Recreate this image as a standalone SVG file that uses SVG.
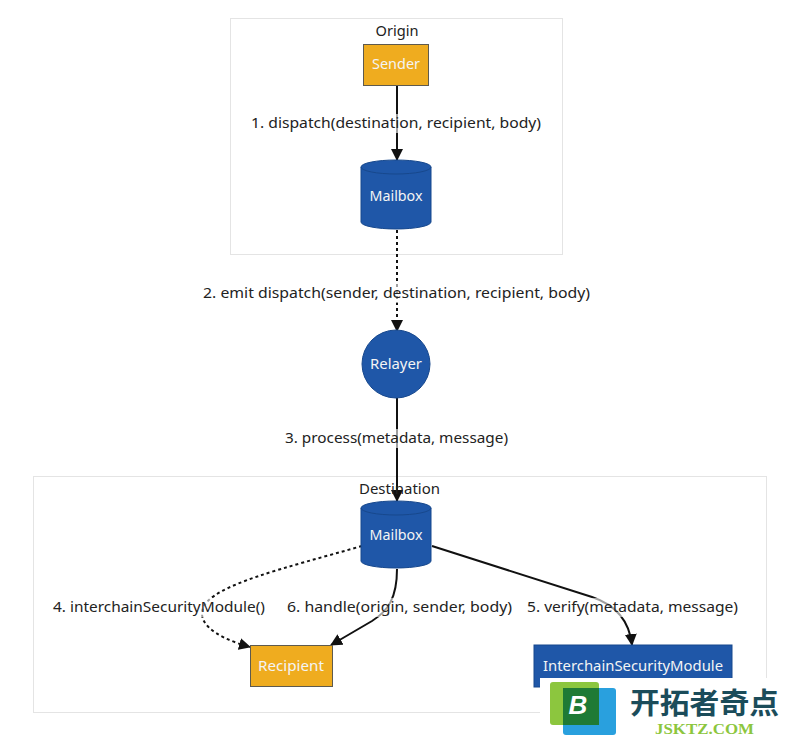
<svg xmlns="http://www.w3.org/2000/svg" width="791" height="739" viewBox="0 0 791 739">
<style>
.cluster{fill:#ffffff;stroke:#e4e4e4;stroke-width:1}
.ctitle{font-family:"Noto Sans","Open Sans",sans-serif;font-size:15px;fill:#222;text-anchor:middle}
.orange{fill:#efac1f;stroke:#5e5a4e;stroke-width:1}
.blue{fill:#1f57a8;stroke:#17488d;stroke-width:1}
.nlabel{font-family:"Noto Sans","Open Sans",sans-serif;font-size:15px;fill:#f4f4f4;text-anchor:middle}
.elabel{font-family:"Noto Sans","Open Sans",sans-serif;font-size:15px;fill:#222;text-anchor:middle}
.lbg{fill:#ffffff;opacity:0.6}
.edge{fill:none;stroke:#111;stroke-width:2}
.dotted{stroke-dasharray:3,3}
</style>
<defs>
<marker id="arrow" viewBox="0 0 12 12" refX="11" refY="6" markerWidth="12" markerHeight="12" markerUnits="userSpaceOnUse" orient="auto">
<path d="M0,0 L12,6 L0,12 z" fill="#111"/>
</marker>
</defs>
<rect width="791" height="739" fill="#ffffff"/>

<g id="cluster-origin">
<rect class="cluster" x="230.5" y="18.5" width="332" height="236"/>
<text class="ctitle" x="397" y="36" textLength="43" lengthAdjust="spacingAndGlyphs">Origin</text>
</g>
<g id="cluster-destination">
<rect class="cluster" x="33.5" y="476.5" width="733" height="236"/>
</g>

<g id="connectors">
<path class="edge" d="M397,85 L397,160" marker-end="url(#arrow)"/>
<path class="edge dotted" d="M397,230 L397,331" marker-end="url(#arrow)"/>
<path class="edge" d="M397,398 L397,501" marker-end="url(#arrow)"/>
<path class="edge dotted" d="M362,546 C285,568 212,585 203,608 C196,628 228,641 250,647" marker-end="url(#arrow)"/>
<path class="edge" d="M397,569 C397,598 388,611 372,621 L331,645" marker-end="url(#arrow)"/>
<path class="edge" d="M432,546 L592,597 Q628,609 632,645" marker-end="url(#arrow)"/>
</g>

<g id="edge-labels">
<rect class="lbg" x="250" y="114" width="293" height="19"/>
<text class="elabel" x="396" y="128" textLength="290" lengthAdjust="spacingAndGlyphs">1. dispatch(destination, recipient, body)</text>
<rect class="lbg" x="202" y="284" width="389" height="19"/>
<text class="elabel" x="396.5" y="298" textLength="387" lengthAdjust="spacingAndGlyphs">2. emit dispatch(sender, destination, recipient, body)</text>
<rect class="lbg" x="284" y="429" width="225" height="19"/>
<text class="elabel" x="396.5" y="443" textLength="223" lengthAdjust="spacingAndGlyphs">3. process(metadata, message)</text>
<rect class="lbg" x="52" y="598" width="214" height="19"/>
<text class="elabel" x="159" y="612" textLength="212" lengthAdjust="spacingAndGlyphs">4. interchainSecurityModule()</text>
<rect class="lbg" x="286" y="598" width="227" height="19"/>
<text class="elabel" x="399.5" y="612" textLength="225" lengthAdjust="spacingAndGlyphs">6. handle(origin, sender, body)</text>
<rect class="lbg" x="526" y="598" width="213" height="19"/>
<text class="elabel" x="632.5" y="612" textLength="211" lengthAdjust="spacingAndGlyphs">5. verify(metadata, message)</text>
</g>

<text class="ctitle" x="399.5" y="494" textLength="81" lengthAdjust="spacingAndGlyphs">Destination</text>

<g id="node-sender">
<rect class="orange" x="363.5" y="44.5" width="65" height="41"/>
<text class="nlabel" x="396" y="69" textLength="48" lengthAdjust="spacingAndGlyphs">Sender</text>
</g>
<g id="node-mailbox-origin">
<path class="blue" d="M361,167 a35,7 0 0,0 70,0 a35,7 0 0,0 -70,0 l0,55 a35,7 0 0,0 70,0 l0,-55"/>
<text class="nlabel" x="396" y="201" textLength="53" lengthAdjust="spacingAndGlyphs">Mailbox</text>
</g>
<g id="node-relayer">
<circle class="blue" cx="396" cy="364" r="34"/>
<text class="nlabel" x="396" y="369" textLength="52" lengthAdjust="spacingAndGlyphs">Relayer</text>
</g>
<g id="node-mailbox-destination">
<path class="blue" d="M361,508 a35,7 0 0,0 70,0 a35,7 0 0,0 -70,0 l0,53 a35,7 0 0,0 70,0 l0,-53"/>
<text class="nlabel" x="396" y="540" textLength="53" lengthAdjust="spacingAndGlyphs">Mailbox</text>
</g>
<g id="node-recipient">
<rect class="orange" x="250.5" y="645.5" width="82" height="41"/>
<text class="nlabel" x="291" y="671" textLength="66" lengthAdjust="spacingAndGlyphs">Recipient</text>
</g>
<g id="node-ism">
<rect class="blue" x="534" y="645" width="198" height="42"/>
<text class="nlabel" x="633" y="671" textLength="180" lengthAdjust="spacingAndGlyphs">InterchainSecurityModule</text>
</g>

<g id="watermark">
<rect x="540" y="678" width="251" height="61" fill="#ffffff"/>
<rect x="563" y="688" width="53" height="47" rx="3" fill="#29a0de"/>
<rect x="550" y="682" width="49" height="43" rx="3" fill="#8cc63e"/>
<rect x="563" y="688" width="36" height="37" fill="#1f7a35"/>
<text x="578" y="714" font-family="Liberation Sans,Arial,sans-serif" font-size="26" font-weight="bold" font-style="italic" fill="#ffffff" text-anchor="middle">B</text>
<text x="630" y="714" font-family="Noto Sans CJK SC,sans-serif" font-size="29" font-weight="bold" fill="#1b4c5a" textLength="149" lengthAdjust="spacingAndGlyphs">开拓者奇点</text>
<text x="655" y="734" font-family="Liberation Serif,serif" font-size="14" font-weight="bold" fill="#8cc63e" textLength="99" lengthAdjust="spacingAndGlyphs">JSKTZ.COM</text>
</g>
</svg>
